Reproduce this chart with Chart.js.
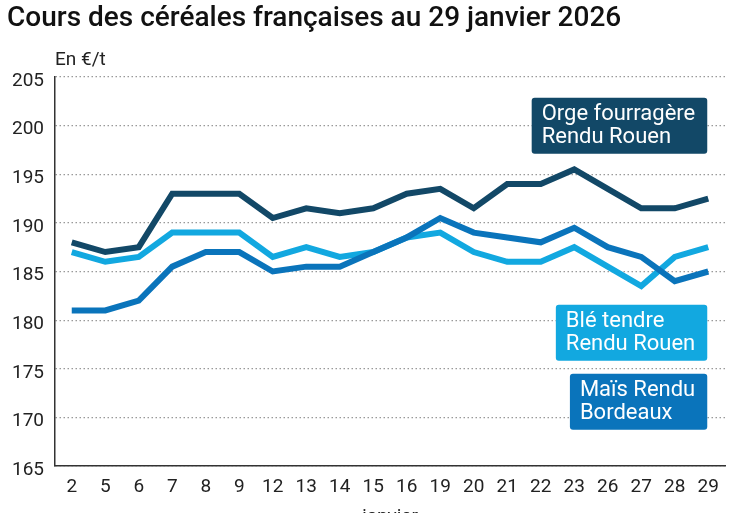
<!DOCTYPE html>
<html lang="fr">
<head>
<meta charset="UTF-8">
<script src="https://cdn.jsdelivr.net/npm/chart.js@4.4.1/dist/chart.umd.min.js"></script>
<style>
  html, body { margin: 0; padding: 0; background: #fff; }
  .wrap { width: 747px; height: 513px; }
</style>
<title>Cours des céréales françaises</title>
</head>
<body>
<div class="wrap"><canvas id="c" width="747" height="513"></canvas></div>
<script>
    // jours de cotation (janvier 2026)
    const jours = ['2', '5', '6', '7', '8', '9', '12', '13', '14', '15', '16', '19', '20', '21', '22', '23', '26', '27', '28', '29'];
    const orge = [188, 187, 187.5, 193, 193, 193, 190.5, 191.5, 191, 191.5, 193, 193.5, 191.5, 194, 194, 195.5, 193.5, 191.5, 191.5, 192.5];
    const ble = [187, 186, 186.5, 189, 189, 189, 186.5, 187.5, 186.5, 187, 188.5, 189, 187, 186, 186, 187.5, 185.5, 183.5, 186.5, 187.5];
    const mais = [181, 181, 182, 185.5, 187, 187, 185, 185.5, 185.5, 187, 188.5, 190.5, 189, 188.5, 188, 189.5, 187.5, 186.5, 184, 185];
    const yMin = 165, yMax = 205, yStep = 5;

    const cOrge = '#124867';
    const cBle = '#12a8e0';
    const cMais = '#0a74bb';

    // étiquettes des séries (texte, couleur, valeur du centre de la boîte)
    const etiquettes = [
        { lignes: ['Orge fourragère', 'Rendu Rouen'], couleur: cOrge, centre: 200 },
        { lignes: ['Blé tendre', 'Rendu Rouen'], couleur: cBle, centre: 178.7 },
        { lignes: ['Maïs Rendu', 'Bordeaux'], couleur: cMais, centre: 171.6 }
    ];

    function roundRect(ctx, x, y, w, h, r) {
        ctx.beginPath();
        ctx.moveTo(x + r, y);
        ctx.lineTo(x + w - r, y);
        ctx.quadraticCurveTo(x + w, y, x + w, y + r);
        ctx.lineTo(x + w, y + h - r);
        ctx.quadraticCurveTo(x + w, y + h, x + w - r, y + h);
        ctx.lineTo(x + r, y + h);
        ctx.quadraticCurveTo(x, y + h, x, y + h - r);
        ctx.lineTo(x, y + r);
        ctx.quadraticCurveTo(x, y, x + r, y);
        ctx.closePath();
    }

    const textes = {
        id: 'textes',
        afterDraw(chart) {
            const ctx = chart.ctx;
            const area = chart.chartArea;
            ctx.save();
            ctx.fillStyle = '#111';
            ctx.textBaseline = 'middle';
            ctx.textAlign = 'left';
            ctx.font = '500 28px Roboto';
            ctx.fillText('Cours des céréales françaises au 29 janvier 2026', 7, 19);
            ctx.font = '19px Roboto';
            ctx.fillStyle = '#222';
            ctx.fillText('En €/t', area.left, 60);
            ctx.textAlign = 'center';
            ctx.fillText('janvier', (area.left + area.right) / 2, 517);

            // boîtes des séries
            const x = chart.scales.x, y = chart.scales.y;
            const droite = x.getPixelForValue(jours.length - 1) - 1;
            ctx.font = '22px Roboto';
            ctx.textAlign = 'left';
            etiquettes.forEach(e => {
                const w = Math.max(...e.lignes.map(l => ctx.measureText(l).width)) + 22;
                const h = 56;
                const cy = y.getPixelForValue(e.centre);
                const left = droite - w;
                ctx.fillStyle = e.couleur;
                roundRect(ctx, left, cy - h / 2, w, h, 3);
                ctx.fill();
                ctx.fillStyle = '#fff';
                ctx.fillText(e.lignes[0], left + 10, cy - 11);
                ctx.fillText(e.lignes[1], left + 10, cy + 12);
            });
            ctx.restore();
        }
    };

    const serie = (label, data, color, order) => ({
        label: label,
        data: data,
        borderColor: color,
        backgroundColor: color,
        borderWidth: 6,
        pointRadius: 0,
        tension: 0,
        borderJoinStyle: 'miter',
        order: order
    });

    const chart = new Chart(document.getElementById('c').getContext('2d'), {
        type: 'line',
        data: {
            labels: jours,
            datasets: [
                serie('Orge fourragère Rendu Rouen', orge, cOrge, 0),
                serie('Blé tendre Rendu Rouen', ble, cBle, 2),
                serie('Maïs Rendu Bordeaux', mais, cMais, 1)
            ]
        },
        options: {
            responsive: false,
            animation: false,
            devicePixelRatio: 1,
            layout: { padding: { top: 77, right: 22, left: 0, bottom: 0 } },
            plugins: {
                legend: { display: false },
                title: { display: false },
                tooltip: { enabled: false }
            },
            scales: {
                x: {
                    offset: true,
                    grid: { display: false, drawTicks: false },
                    border: { display: true, color: '#333', width: 1.5 },
                    ticks: { color: '#222', font: { family: 'Roboto', size: 19 }, padding: 10, maxRotation: 0, autoSkip: false },
                    afterFit(scale) { scale.height = 47; }
                },
                y: {
                    min: yMin,
                    max: yMax,
                    grid: { color: '#999', lineWidth: 1.2, drawTicks: false },
                    border: { display: true, color: '#333', width: 1.5, dash: [1.5, 2.5] },
                    ticks: { stepSize: yStep, color: '#222', font: { family: 'Roboto', size: 19 }, padding: 11, labelOffset: 4 },
                    afterFit(scale) { scale.width = 55; }
                }
            }
        },
        plugins: [textes]
    });
</script>
</body>
</html>
